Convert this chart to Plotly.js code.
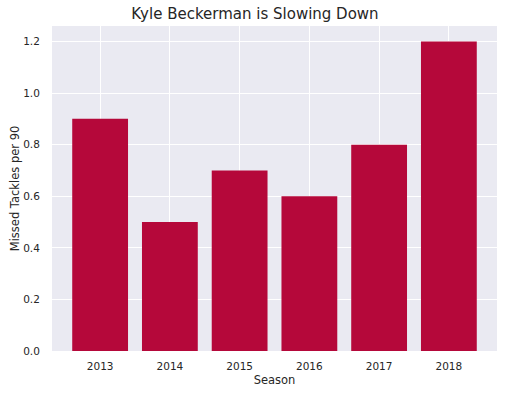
<!DOCTYPE html>
<html>
<head>
<meta charset="utf-8">
<script src="https://cdn.plot.ly/plotly-3.0.1.min.js"></script>
<style>html,body{margin:0;padding:0;background:#fff;}#chart{width:510px;height:395px;}</style>
</head>
<body>
<div id="chart"></div>
<script>
const seasons = ["2013", "2014", "2015", "2016", "2017", "2018"];
const missedTacklesPer90 = [0.9, 0.5, 0.7, 0.6, 0.8, 1.2];
const yTickValues = [0.0, 0.2, 0.4, 0.6, 0.8, 1.0, 1.2];

const font = "DejaVu Sans, sans-serif";
const textColor = "#262626";

Plotly.newPlot("chart", [{
  type: "bar",
  x: seasons,
  y: missedTacklesPer90,
  width: 0.8,
  marker: {color: "#b5083a", line: {width: 0}},
  hoverinfo: "none"
}], {
  width: 510,
  height: 395,
  margin: {l: 52, r: 13, t: 26, b: 44},
  paper_bgcolor: "#ffffff",
  plot_bgcolor: "#eaeaf2",
  font: {family: font, color: textColor},
  title: {text: "Kyle Beckerman is Slowing Down", font: {size: 15, color: textColor, family: font}, x: 0.5, xanchor: "center", y: 0.965, yanchor: "middle"},
  xaxis: {
    type: "category",
    range: [-0.69, 5.69],
    showgrid: true,
    gridcolor: "#ffffff",
    gridwidth: 1,
    zeroline: false,
    showline: false,
    ticks: "outside",
    ticklen: 5,
    tickcolor: "rgba(0,0,0,0)",
    tickfont: {size: 10.5, color: textColor, family: font},
    title: {text: "Season", font: {size: 11.5, color: textColor, family: font}, standoff: 5}
  },
  yaxis: {
    range: [0, 1.26],
    tickvals: yTickValues,
    tickformat: ".1f",
    showgrid: true,
    gridcolor: "#ffffff",
    gridwidth: 1,
    zeroline: false,
    showline: false,
    ticks: "outside",
    ticklen: 9,
    tickcolor: "rgba(0,0,0,0)",
    tickfont: {size: 10.5, color: textColor, family: font},
    title: {text: "Missed Tackles per 90", font: {size: 11.5, color: textColor, family: font}, standoff: 1}
  },
  showlegend: false,
  bargap: 0.2
}, {displayModeBar: false, staticPlot: true});
</script>
</body>
</html>
